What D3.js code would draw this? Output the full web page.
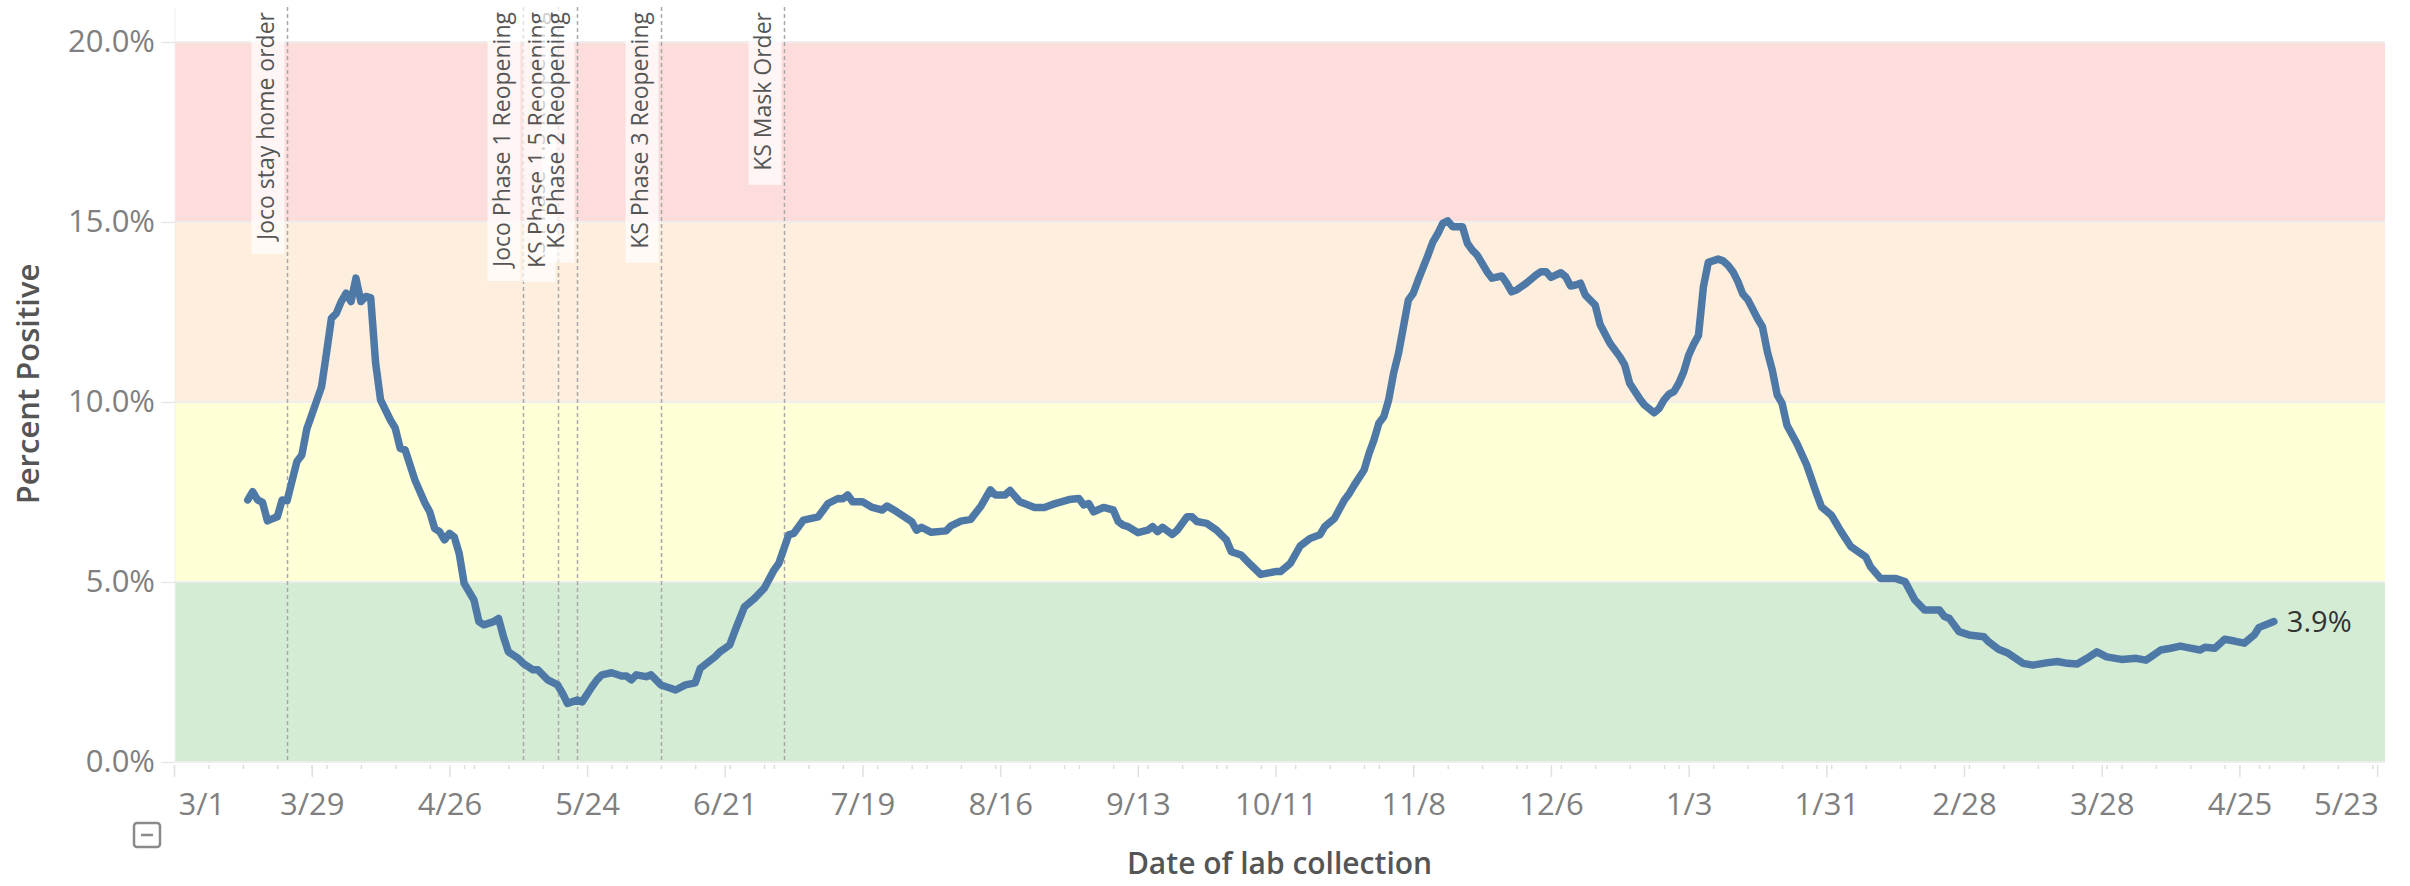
<!DOCTYPE html>
<html>
<head>
<meta charset="utf-8">
<script src="https://cdn.jsdelivr.net/npm/d3@7"></script>
<style>
  html, body { margin: 0; padding: 0; background: #ffffff; }
  svg { display: block; font-family: "Open Sans", "DejaVu Sans", sans-serif; }
</style>
</head>
<body>
<svg id="chart" width="2410" height="886"></svg>
<script>
// ---------------- DATA ----------------
const startDate = "2020-03-01";
// days after 2020-03-01
const dayOffsets = [
  15,16,17,18,19,21,22,23,25,26,27,30,31,32,33,34,35,36,37,38,39,40,41,42,44,45,46,47,49,51,
  52,53,54,55,56,57,58,59,61,62,63,65,66,67,68,70,71,73,74,76,78,79,80,82,83,85,86,87,89,91,
  92,93,94,96,97,99,101,102,104,106,107,110,111,113,114,116,118,120,122,123,125,126,128,131,133,135,136,137,138,140,
  142,144,145,147,149,150,151,152,154,157,158,160,162,164,166,167,169,170,172,175,177,179,182,184,185,186,187,189,191,192,
  193,194,196,198,199,200,201,203,204,206,207,208,210,212,214,215,217,219,221,224,225,227,229,231,233,234,236,238,239,240,
  242,243,244,245,246,247,248,249,250,251,252,253,255,256,257,258,259,260,262,263,264,265,267,268,270,271,272,273,275,277,
  278,279,280,282,283,284,285,286,287,289,290,292,294,295,296,298,299,301,302,303,304,305,306,307,308,309,310,311,312,314,
  315,316,317,318,319,320,322,323,324,325,326,327,328,330,332,334,335,337,339,341,344,345,347,350,352,354,356,359,360,361,
  363,365,368,369,371,373,376,378,381,383,385,387,389,391,393,396,399,401,402,404,406,408,409,412,413,415,417,419,421,423,
  424,426,427
];
const percentPositive = [
  7.28,7.51,7.28,7.21,6.70,6.81,7.28,7.26,8.35,8.53,9.25,10.42,11.35,12.32,12.46,12.79,13.02,12.79,13.44,12.79,12.93,12.90,11.08,10.06,9.50,9.27,8.71,8.67,7.83,7.20,
  6.95,6.49,6.40,6.17,6.35,6.25,5.79,4.96,4.50,3.90,3.81,3.90,3.99,3.48,3.06,2.88,2.74,2.56,2.56,2.28,2.14,1.91,1.63,1.72,1.67,2.09,2.28,2.42,2.48,2.39,
  2.39,2.28,2.42,2.37,2.42,2.14,2.05,2.00,2.14,2.20,2.60,2.92,3.06,3.25,3.62,4.31,4.54,4.82,5.33,5.52,6.31,6.35,6.72,6.81,7.18,7.32,7.31,7.42,7.23,7.23,
  7.07,7.00,7.11,6.95,6.77,6.68,6.44,6.52,6.38,6.42,6.56,6.69,6.74,7.09,7.56,7.42,7.42,7.54,7.23,7.07,7.07,7.17,7.29,7.32,7.14,7.18,6.95,7.07,7.00,6.68,
  6.58,6.54,6.37,6.44,6.54,6.40,6.52,6.32,6.44,6.81,6.81,6.68,6.63,6.44,6.17,5.84,5.75,5.47,5.21,5.29,5.29,5.52,6.00,6.21,6.31,6.54,6.77,7.28,7.46,7.69,
  8.11,8.57,8.94,9.41,9.59,10.06,10.80,11.35,12.09,12.83,13.02,13.39,14.08,14.45,14.68,14.96,15.03,14.87,14.87,14.41,14.22,14.08,13.62,13.44,13.50,13.30,13.06,13.11,13.30,13.53,
  13.62,13.62,13.46,13.59,13.48,13.22,13.25,13.30,12.97,12.69,12.15,11.63,11.26,11.03,10.52,10.10,9.92,9.70,9.82,10.06,10.22,10.29,10.52,10.84,11.30,11.60,11.85,13.20,13.88,13.97,
  13.92,13.80,13.62,13.35,13.00,12.85,12.32,12.09,11.40,10.89,10.20,9.96,9.35,8.85,8.25,7.46,7.09,6.86,6.40,5.98,5.70,5.42,5.10,5.10,5.01,4.50,4.22,4.22,4.04,3.99,
  3.62,3.53,3.48,3.34,3.13,3.02,2.74,2.69,2.76,2.79,2.74,2.72,2.88,3.06,2.92,2.85,2.88,2.83,2.92,3.11,3.16,3.22,3.19,3.11,3.19,3.16,3.41,3.36,3.30,3.53,
  3.74,3.85,3.90
];

const eventDates  = ["2020-03-24","2020-05-11","2020-05-18","2020-05-22","2020-06-08","2020-07-03"];
const eventLabels = ["Joco stay home order","Joco Phase 1 Reopening","KS Phase 1.5 Reopening",
                     "KS Phase 2 Reopening","KS Phase 3 Reopening","KS Mask Order"];

const bandLower  = [0, 5, 10, 15];
const bandUpper  = [5, 10, 15, 20];
const bandColors = ["#d4ecd4", "#ffffd8", "#fdeedd", "#fddcdc"];

const yTicks = [0, 5, 10, 15, 20];
const xMajorTickDates = ["2020-03-01","2020-03-29","2020-04-26","2020-05-24","2020-06-21","2020-07-19",
  "2020-08-16","2020-09-13","2020-10-11","2020-11-08","2020-12-06","2021-01-03","2021-01-31",
  "2021-02-28","2021-03-28","2021-04-25","2021-05-23"];
const xTickLabels = ["3/1","3/29","4/26","5/24","6/21","7/19","8/16","9/13","10/11","11/8","12/6",
  "1/3","1/31","2/28","3/28","4/25","5/23"];

const xTitle = "Date of lab collection";
const yTitle = "Percent Positive";

// ---------------- DRAW ----------------
(function draw() {
  const parse = d3.timeParse("%Y-%m-%d");
  const t0 = parse(startDate);
  const dates = dayOffsets.map(d => d3.timeDay.offset(t0, d));
  const series = dates.map((d, i) => ({ date: d, value: percentPositive[i] }));

  const pLeft = 174, pRight = 2385, pTop = 6, pBottom = 762;
  const svg = d3.select("#chart");

  const x = d3.scaleTime()
    .domain([t0, new Date(2021, 4, 24, 14, 24)])
    .range([pLeft, pRight]);
  const y = d3.scaleLinear().domain([0, 21]).range([pBottom, pTop]);

  // background bands
  svg.append("g").selectAll("rect")
    .data(bandLower)
    .join("rect")
    .attr("x", pLeft + 1)
    .attr("width", pRight - pLeft - 1)
    .attr("y", (d, i) => y(bandUpper[i]))
    .attr("height", (d, i) => y(d) - y(bandUpper[i]))
    .attr("fill", (d, i) => bandColors[i]);

  // faint left border of plot
  svg.append("line")
    .attr("x1", pLeft + 1).attr("x2", pLeft + 1)
    .attr("y1", y(21) + 1).attr("y2", y(0))
    .attr("stroke", "#f0f0f0").attr("stroke-width", 1);

  // Y axis with grid
  const yAxis = d3.axisLeft(y).tickValues(yTicks).tickSize(14).tickPadding(6)
    .tickFormat(d => d.toFixed(1) + "%");
  const gy = svg.append("g").attr("transform", `translate(${pLeft + 1},0)`).call(yAxis);
  gy.select(".domain").remove();
  gy.selectAll(".tick line").attr("stroke", "#e8e8e8").attr("stroke-width", 1.5);
  gy.selectAll(".tick text").attr("fill", "#7f7f7f").style("font-size", "31px")
    .style("font-family", "'Open Sans', sans-serif");

  svg.append("g").selectAll("line")
    .data(yTicks)
    .join("line")
    .attr("x1", pLeft + 1).attr("x2", pRight)
    .attr("y1", d => y(d)).attr("y2", d => y(d))
    .attr("stroke", "#eeeeee").attr("stroke-width", 2);

  // X axis minor ticks
  const minorTicks = d3.timeDay.every(7).range(t0, x.domain()[1]);
  const gxMinor = svg.append("g").attr("transform", `translate(0,${pBottom + 3})`)
    .call(d3.axisBottom(x).tickValues(minorTicks).tickSize(4).tickFormat(""));
  gxMinor.select(".domain").remove();
  gxMinor.selectAll(".tick line").attr("stroke", "#dddddd").attr("stroke-width", 1.5);

  // X axis major ticks + labels
  const majorDates = xMajorTickDates.map(parse);
  const gx = svg.append("g").attr("transform", `translate(0,${pBottom + 3})`)
    .call(d3.axisBottom(x).tickValues(majorDates).tickSize(12).tickPadding(16)
      .tickFormat((d, i) => xTickLabels[i]));
  gx.select(".domain").remove();
  gx.selectAll(".tick line").attr("stroke", "#e0e0e0").attr("stroke-width", 1.5);
  gx.selectAll(".tick text").attr("fill", "#7f7f7f").style("font-size", "31px")
    .style("font-family", "'Open Sans', sans-serif");
  const nT = majorDates.length;
  gx.selectAll(".tick text")
    .attr("text-anchor", (d, i) => i === 0 ? "start" : (i === nT - 1 ? "end" : "middle"))
    .attr("dx", (d, i) => i === 0 ? 4 : (i === nT - 1 ? 1 : 0));

  // event annotation lines + labels
  eventDates.forEach((ds, i) => {
    const ex = Math.round(x(parse(ds))) + 0.5;
    const g = svg.append("g");
    g.append("line")
      .attr("x1", ex).attr("x2", ex)
      .attr("y1", y(21) + 1).attr("y2", y(0))
      .attr("stroke", "#a8a8a8").attr("stroke-width", 1.5)
      .attr("stroke-dasharray", "4,3");
    const box = g.append("rect");
    const txt = g.append("text")
      .attr("transform", `translate(${ex - 14},12) rotate(-90)`)
      .attr("text-anchor", "end")
      .attr("fill", "#555555")
      .style("font-size", "23px")
      .text(eventLabels[i]);
    const len = txt.node().getComputedTextLength();
    box.attr("x", ex - 36).attr("width", 33)
      .attr("y", y(21) + 1).attr("height", 12 + len + 14 - (y(21) + 1))
      .attr("fill", "#ffffff").attr("fill-opacity", 0.72);
  });

  // line
  const line = d3.line().x(d => x(d.date)).y(d => y(d.value));
  svg.append("path")
    .datum(series)
    .attr("fill", "none")
    .attr("stroke", "#4e79a7")
    .attr("stroke-width", 7.5)
    .attr("stroke-linejoin", "round")
    .attr("stroke-linecap", "round")
    .attr("d", line);

  // end label
  const last = series[series.length - 1];
  svg.append("text")
    .attr("x", x(last.date) + 13)
    .attr("y", y(last.value))
    .attr("dy", "0.35em")
    .attr("fill", "#333333")
    .style("font-size", "29px")
    .text(last.value.toFixed(1) + "%");

  // axis titles
  svg.append("text")
    .attr("transform", `translate(39,${(y(0) + y(21)) / 2}) rotate(-90)`)
    .attr("text-anchor", "middle")
    .attr("fill", "#555555")
    .style("font-size", "31px").style("font-weight", 600)
    .text(yTitle);

  svg.append("text")
    .attr("x", (pLeft + pRight) / 2)
    .attr("y", 874)
    .attr("text-anchor", "middle")
    .attr("fill", "#555555")
    .style("font-size", "30px").style("font-weight", 600)
    .text(xTitle);

  // collapse icon
  const ic = svg.append("g").attr("transform", "translate(134,823)");
  ic.append("rect").attr("width", 26).attr("height", 24).attr("rx", 3)
    .attr("fill", "#ffffff").attr("stroke", "#8a8a8a").attr("stroke-width", 2.5);
  ic.append("line").attr("x1", 7).attr("x2", 19).attr("y1", 12).attr("y2", 12)
    .attr("stroke", "#8a8a8a").attr("stroke-width", 2.5);
})();
</script>
</body>
</html>
